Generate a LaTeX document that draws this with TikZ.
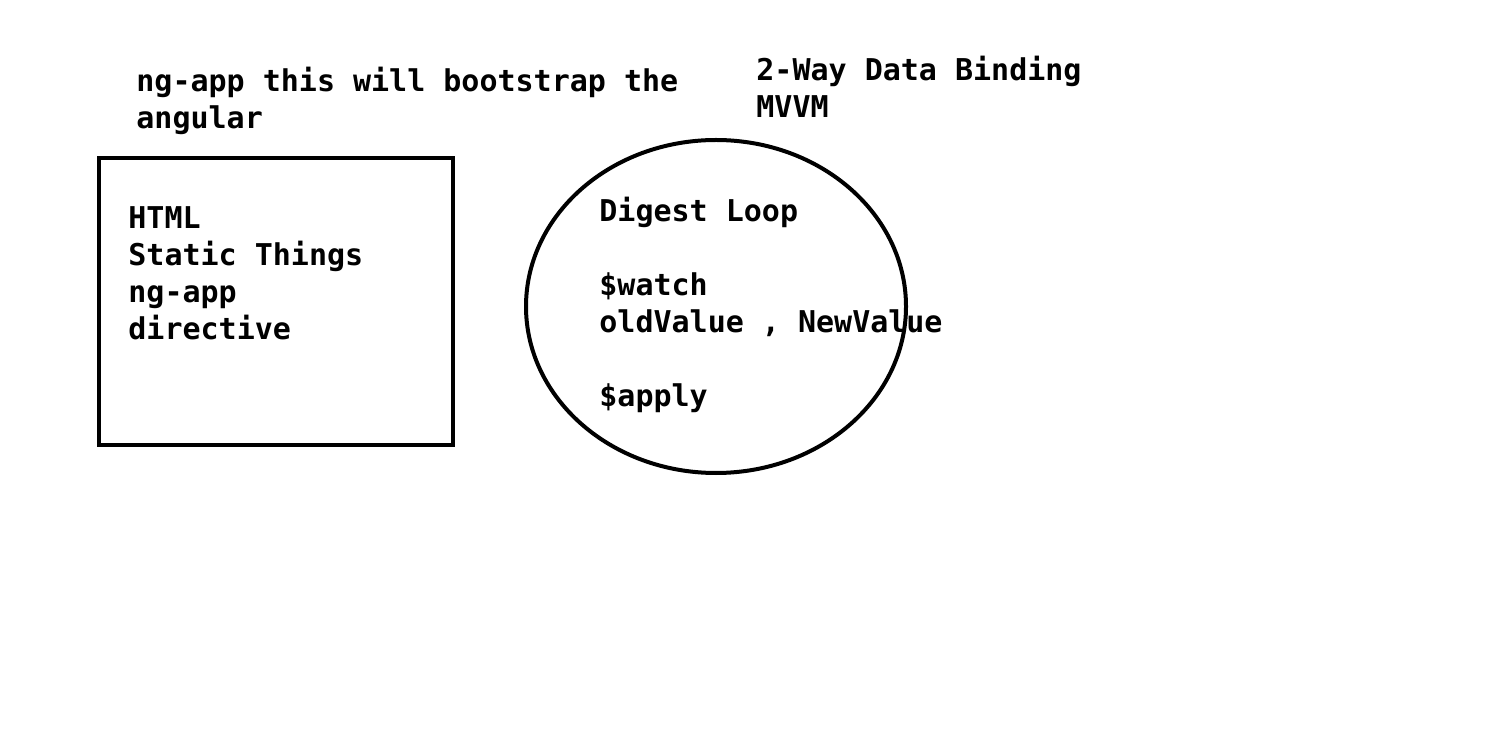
\documentclass[tikz,border=0pt]{standalone}
\usepackage{fontspec}
\setmonofont{DejaVu Sans Mono}
\usepackage{tikz}
\usetikzlibrary{shapes,calc}

\begin{document}
\begin{tikzpicture}[x=0.5pt, y=-0.5pt]
    \tikzstyle{note} = [
      anchor=base west,
      align=left,
      inner sep=0pt,
      font=\ttfamily\bfseries\fontsize{15pt}{18.5pt}\selectfont,
    ]
    \tikzstyle{outline} = [
      draw=black,
      line width=2pt,
    ]

    \newcommand{\loopxr}[0]{190}
    \newcommand{\loopyr}[0]{166.5}

    \useasboundingbox (0,0) rectangle (1508,742);

    % anchors sit on the last baseline of each text
    \coordinate (pageAnchor) at (136,129);
    \coordinate (boxAnchor) at (128,340);
    \coordinate (loopCentre) at (716,306.5);

    % title
    {
      \node[note] (bootTitle) at (pageAnchor) {ng-app this will bootstrap the\\angular};
      \node[note] (bindTitle) at (756,118) {2-Way Data Binding\\MVVM};
    }

    % html box
    {
      \draw[outline] (99,158) rectangle (453,445);
      \node[note] (htmlText) at (boxAnchor) {HTML\\Static Things\\ng-app\\directive};
    }

    % digest loop
    {
      \draw[outline] (loopCentre) ellipse [x radius=\loopxr, y radius=\loopyr];
      \node[note] (loopText) at (599,407) {Digest Loop\\[18.5pt]\$watch\\oldValue , NewValue\\[18.5pt]\$apply};
    }
  \end{tikzpicture}
\end{document}
